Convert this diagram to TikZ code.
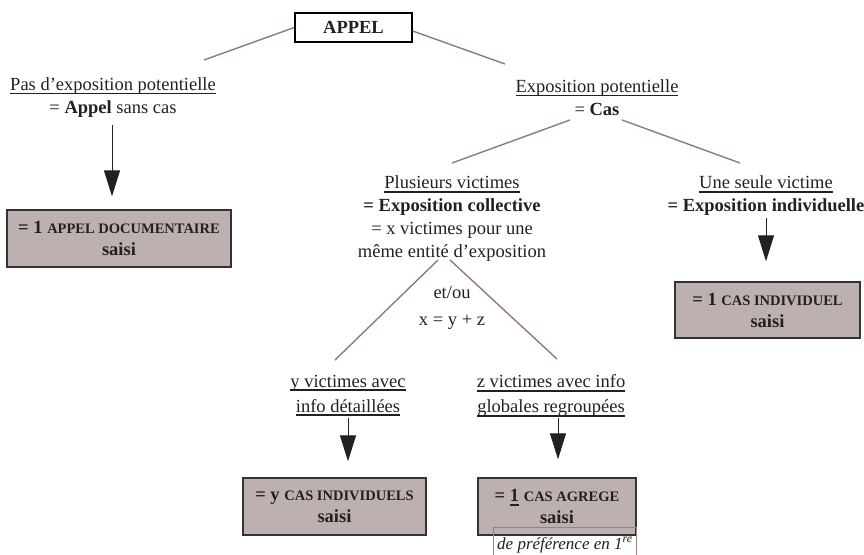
\documentclass[tikz,border=0pt]{standalone}
\usepackage{fontspec}
\setmainfont{Liberation Serif}
\usetikzlibrary{arrows.meta}
\definecolor{boxfill}{RGB}{188,177,175}
\definecolor{conncol}{RGB}{145,122,118}
\definecolor{notecol}{RGB}{160,128,122}
\definecolor{inkcol}{RGB}{35,32,32}
\newcommand\myul[1]{\setbox0\hbox{#1}\rlap{\rule[-4pt]{\wd0}{1.7pt}}\box0\relax}
\newcommand\smc[1]{{\fontsize{14.5}{22}\selectfont #1}}
\begin{document}
\begin{tikzpicture}[x=1pt,y=-1pt,
  lbl/.style={align=center,inner sep=0pt,text=inkcol,font=\fontsize{18.5}{23}\selectfont},
  rbox/.style={draw=black!80,line width=1.4pt,fill=boxfill,align=center,inner sep=0pt,
    minimum width=#1,minimum height=57pt,text=inkcol,font=\fontsize{18.5}{22}\selectfont\bfseries},
  conn/.style={draw=conncol,line width=1.4pt},
  arr/.style={draw=inkcol,line width=1pt,-{Triangle[width=16pt,length=26pt]}},
]
\useasboundingbox (0,0) rectangle (864,554);

% top
\node[draw=black,line width=1.4pt,fill=white,minimum width=117pt,minimum height=29pt,inner sep=0pt,
  font=\fontsize{18.5}{22}\selectfont\bfseries,text=inkcol] (appel) at (353.5,27.5) {APPEL};

% labels
\node[lbl] (pas) at (113,97.5) {\myul{Pas d'exposition potentielle}\\= \textbf{Appel} sans cas};
\node[lbl] (expo) at (597,97.5) {\myul{Exposition potentielle}\\= \textbf{Cas}};
\node[lbl] (plus) at (452,219) {\myul{Plusieurs victimes}\\\textbf{= Exposition collective}\\= x victimes pour une\\même entité d'exposition};
\node[lbl] (une) at (766,196) {\myul{Une seule victime}\\\textbf{= Exposition individuelle}};
\node[lbl,font=\fontsize{18.5}{27}\selectfont] (etou) at (452,308) {et/ou\\x = y + z};
\node[lbl,font=\fontsize{18.5}{25}\selectfont] (yv) at (348,395.5) {\myul{y victimes avec}\\\myul{info détaillées}};
\node[lbl,font=\fontsize{18.5}{25}\selectfont] (zv) at (551,395.5) {\myul{z victimes avec info}\\\myul{globales regroupées}};

% result boxes
\node[rbox=224pt] (b1) at (119,238.5) {= 1 \smc{APPEL DOCUMENTAIRE}\\saisi};
\node[rbox=185pt,minimum height=56pt] (b2) at (767.5,310) {= 1 \smc{CAS INDIVIDUEL}\\saisi};
\node[rbox=183pt] (b3) at (334.5,506.5) {= y \smc{CAS INDIVIDUELS}\\saisi};
\node[rbox=158pt] (b4) at (557,506.5) {= \myul{1} \smc{CAS AGREGE}\\saisi};

% note
\draw[notecol,line width=1pt] (493,556) |- (636,527) -- (636,556);
\node[inner sep=0pt,text=inkcol,font=\fontsize{17}{20}\selectfont\itshape,anchor=base west] (note) at (497,549)
  {de préférence en 1\textsuperscript{re}};

% connector end points
\coordinate (pas-top) at (204,60);
\coordinate (expo-top) at (505,64);
\coordinate (expo-bl) at (570,120);
\coordinate (expo-br) at (622,120);
\coordinate (plus-top) at (452,163);
\coordinate (une-top) at (740,163);
\coordinate (plus-bl) at (438,260);
\coordinate (plus-br) at (450,260);
\coordinate (yv-top) at (335,360);
\coordinate (zv-top) at (557,359);
\coordinate (pas-bot) at (112,125);
\coordinate (une-bot) at (766,218);
\coordinate (yv-bot) at (348,418);
\coordinate (zv-bot) at (558,418);

\draw[conn] (appel.west) -- (pas-top);
\draw[conn] ([yshift=-3.5pt]appel.east) -- (expo-top);
\draw[conn] (expo-bl) -- (plus-top);
\draw[conn] (expo-br) -- (une-top);
\draw[conn] (plus-bl) -- (yv-top);
\draw[conn] (plus-br) -- (zv-top);

\draw[arr,shorten >=13pt] (pas-bot) -- (pas-bot |- b1.north);
\draw[arr,shorten >=20pt] (une-bot) -- (une-bot |- b2.north);
\draw[arr,shorten >=16pt] (yv-bot) -- (yv-bot |- b3.north);
\draw[arr,shorten >=18pt] (zv-bot) -- (zv-bot |- b4.north);
\end{tikzpicture}
\end{document}
